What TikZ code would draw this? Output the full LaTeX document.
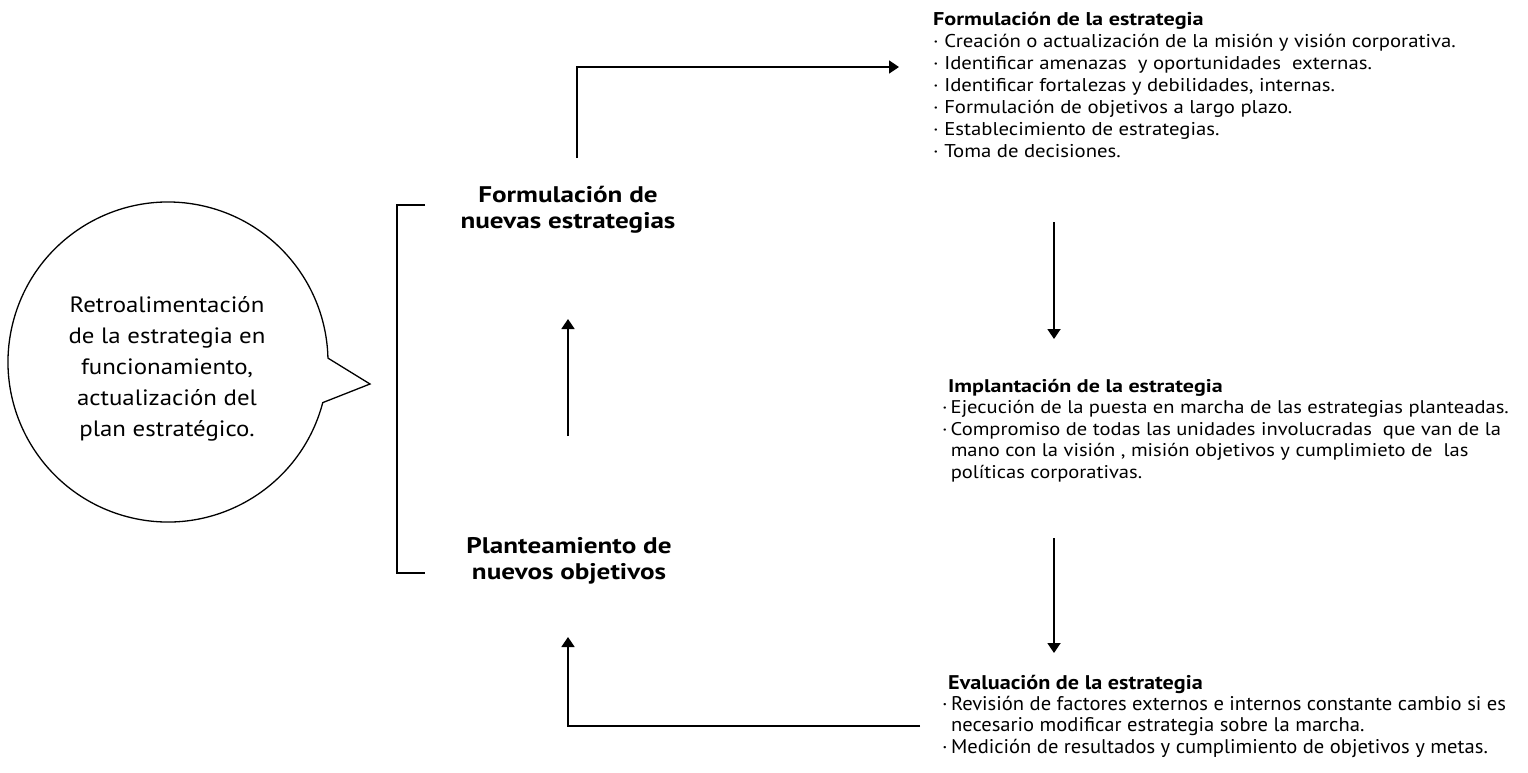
\documentclass[tikz,border=0pt]{standalone}
\usepackage{fontspec}
\setmainfont{PT Sans}[FakeStretch=1.12]
\newfontfamily\condfont{PT Sans}[FakeStretch=1.04]
\newfontfamily\condbold{PT Sans}[FakeStretch=1.12]
\newfontfamily\midfont{PT Sans}[FakeStretch=1.2]
\usetikzlibrary{arrows.meta,calc}
\begin{document}
\begin{tikzpicture}[x=1pt,y=-1pt,
  conn/.style={draw, line width=1.8pt},
  arr/.style={conn, -{Triangle[length=10pt,width=13pt]}},
  block/.style={anchor=base west, align=left, inner sep=0pt},
  formfont/.style={font=\fontsize{18.5}{22.1}\selectfont},
  implfont/.style={font=\fontsize{18.35}{21.5}\selectfont},
  evalfont/.style={font=\condfont\fontsize{19.8}{21.3}\selectfont},
  midtext/.style={align=center, inner sep=0pt, font=\midfont\fontsize{22.6}{26}\selectfont\bfseries},
  bubbletext/.style={align=center, inner sep=0pt, font=\fontsize{22.2}{31}\selectfont}]
\useasboundingbox (0,0) rectangle (1528,772);

% speech bubble
\node[bubbletext] (bubble) at (167,369) {Retroalimentación\\de la estrategia en\\funcionamiento,\\actualización del\\plan estratégico.};
\coordinate (bc) at (168,362);
\coordinate (btip) at (370,384);
\draw[line width=1.3pt, line join=miter] ($(bc)+(14.7:160)$) arc[start angle=14.7, end angle=358.6, radius=160] -- (btip) -- cycle;

% middle texts
\node[midtext] (fne) at (568,210) {Formulación de\\nuevas estrategias};
\node[midtext] (pno) at (569,561) {Planteamiento de\\nuevos objetivos};

% right blocks (anchored at the baseline of their last line)
\node[block, formfont] (form) at (933,157.6) {{\midfont\bfseries Formulación de la estrategia}\\
· Creación o actualización de la misión y visión corporativa.\\
· Identificar amenazas~ y oportunidades~ externas.\\
· Identificar fortalezas y debilidades, internas.\\
· Formulación de objetivos a largo plazo.\\
· Establecimiento de estrategias.\\
· Toma de decisiones.};

\node[block, implfont] (impl) at (942,478) {\hspace{6pt}{\midfont\bfseries Implantación de la estrategia}\\
·\,Ejecución de la puesta en marcha de las estrategias planteadas.\\
·\,Compromiso de todas las unidades involucradas~ que van de la\\
\phantom{·\,}mano con la visión , misión objetivos y cumplimieto de~ las\\
\phantom{·\,}políticas corporativas.};

\node[block, evalfont] (eval) at (942,753) {\hspace{6pt}{\condbold\bfseries Evaluación de la estrategia}\\
·\,Revisión de factores externos e internos constante cambio si es\\
\phantom{·\,}necesario modificar estrategia sobre la marcha.\\
·\,Medición de resultados y cumplimiento de objetivos y metas.};

% bracket
\coordinate (brt) at (425,205);
\coordinate (brb) at (425,573);
\draw[conn] (brt) -- ++(-28,0) |- (brb);

% connectors
\coordinate (t1) at (577,158);
\coordinate (t2) at (899,67);
\draw[arr] (t1) |- (t2);

\coordinate (d1a) at (1054,222);
\coordinate (d1b) at (1054,339);
\draw[arr] (d1a) -- (d1b);

\coordinate (d2a) at (1054,538);
\coordinate (d2b) at (1054,653);
\draw[arr] (d2a) -- (d2b);

\coordinate (b1) at (920,726);
\coordinate (b2) at (568,637);
\draw[arr] (b1) -| (b2);

\coordinate (u1) at (568,436);
\coordinate (u2) at (568,319);
\draw[arr] (u1) -- (u2);
\end{tikzpicture}
\end{document}
